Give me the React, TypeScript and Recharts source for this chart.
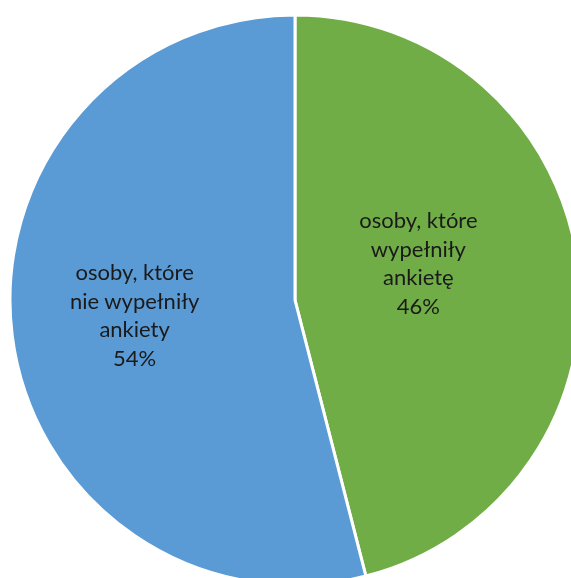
import { PieChart, Pie, Cell } from "recharts";

const names = ["osoby, które wypełniły ankietę", "osoby, które nie wypełniły ankiety"];
const labelLines = [
  ["osoby, które", "wypełniły", "ankietę"],
  ["osoby, które", "nie wypełniły", "ankiety"]
];
const shares = [46, 54];
const colors = ["#70AD47", "#5B9BD5"];

const data = names.map((name, i) => ({ name, value: shares[i] }));

// Excel puts the labels a bit off the mid-angle line; nudge them there
const nudge = [
  [-18, -20],
  [-19, -4]
];

const RADIAN = Math.PI / 180;

function renderLabel(props: any) {
  const { cx, cy, midAngle, outerRadius, index, value } = props;
  const r = outerRadius * 0.5;
  const x = cx + r * Math.cos(-midAngle * RADIAN) + nudge[index][0];
  const y = cy + r * Math.sin(-midAngle * RADIAN) + nudge[index][1];
  const lines = [...labelLines[index], `${value}%`];
  const lh = 28.5;
  const top = y - ((lines.length - 1) * lh) / 2;
  return (
    <text
      x={x}
      y={top}
      textAnchor='middle'
      dominantBaseline='central'
      fill='#1a1a1a'
      fontFamily='Lato, "Open Sans", sans-serif'
      fontSize={22}
    >
      {lines.map((l, i) => (
        <tspan key={i} x={x} y={top + i * lh}>
          {l}
        </tspan>
      ))}
    </text>
  );
}

export default function App() {
  return (
    <div style={{ position: "fixed", left: 0, top: 0, width: 571, height: 578 }}>
      <PieChart width={571} height={578} margin={{ top: 0, right: 0, bottom: 0, left: 0 }}>
        <Pie
          data={data}
          dataKey='value'
          nameKey='name'
          cx={295}
          cy={300}
          outerRadius={285}
          startAngle={90}
          endAngle={-270}
          stroke='#ffffff'
          strokeWidth={3}
          label={renderLabel}
          labelLine={false}
          isAnimationActive={false}
        >
          {data.map((d, i) => (
            <Cell key={d.name} fill={colors[i]} />
          ))}
        </Pie>
      </PieChart>
    </div>
  );
}
